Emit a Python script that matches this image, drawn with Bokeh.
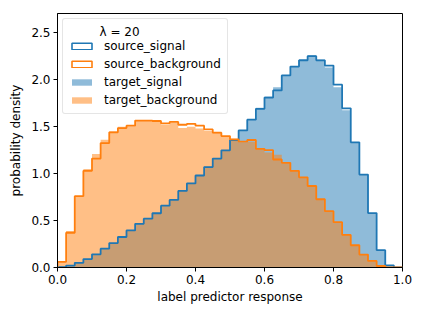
import numpy as np
from bokeh.plotting import figure
from bokeh.models import Range1d, FixedTicker, PrintfTickFormatter, Legend, LegendItem, ColumnDataSource
from bokeh.embed import file_html
from bokeh.resources import INLINE

# ---- data (40 bins on [0, 1]) ----
bin_lo = 0.0
bin_hi = 1.0
n_bins = 40

source_signal = [0.005, 0.02, 0.05, 0.09, 0.14, 0.20, 0.26, 0.325, 0.395, 0.465,
                 0.52, 0.578, 0.658, 0.72, 0.815, 0.895, 0.98, 1.07, 1.16, 1.248,
                 1.357, 1.46, 1.574, 1.69, 1.81, 1.886, 2.045, 2.14, 2.206, 2.25,
                 2.206, 2.15, 1.947, 1.695, 1.333, 0.99, 0.58, 0.184, 0.022, 0.0]
source_background = [0.06, 0.37, 0.76, 1.03, 1.16, 1.325, 1.44, 1.485, 1.51, 1.565,
                     1.565, 1.56, 1.535, 1.55, 1.52, 1.53, 1.51, 1.47, 1.435, 1.40,
                     1.365, 1.34, 1.358, 1.264, 1.249, 1.15, 1.115, 1.03, 0.96, 0.868,
                     0.727, 0.60, 0.483, 0.347, 0.237, 0.138, 0.07, 0.016, 0.0, 0.0]
target_signal = [0.007, 0.022, 0.055, 0.09, 0.145, 0.205, 0.26, 0.33, 0.40, 0.465,
                 0.525, 0.58, 0.66, 0.725, 0.82, 0.895, 0.985, 1.075, 1.165, 1.25,
                 1.36, 1.465, 1.57, 1.70, 1.82, 1.92, 2.05, 2.135, 2.22, 2.26,
                 2.215, 2.13, 1.92, 1.675, 1.335, 0.985, 0.57, 0.18, 0.025, 0.0]
target_background = [0.07, 0.39, 0.76, 1.05, 1.21, 1.36, 1.45, 1.50, 1.505, 1.565,
                     1.56, 1.565, 1.52, 1.545, 1.485, 1.50, 1.48, 1.455, 1.425, 1.40,
                     1.37, 1.33, 1.34, 1.265, 1.225, 1.20, 1.11, 1.03, 0.955, 0.87,
                     0.72, 0.60, 0.475, 0.345, 0.235, 0.14, 0.075, 0.02, 0.005, 0.0]

x_ticks = [0.0, 0.2, 0.4, 0.6, 0.8, 1.0]
y_ticks = [0.0, 0.5, 1.0, 1.5, 2.0, 2.5]
legend_title = "\u03bb = 20"

BLUE = "#1f77b4"
ORANGE = "#ff7f0e"
FONT = "DejaVu Sans"
FS = "12px"

edges = np.linspace(bin_lo, bin_hi, n_bins + 1)

p = figure(output_backend="svg", toolbar_location=None,
           frame_width=345, frame_height=254,
           min_border_left=57, min_border_right=15, min_border_top=13, min_border_bottom=42,
           x_range=Range1d(0, 1), y_range=Range1d(0, 2.705))
p.xgrid.visible = False
p.ygrid.visible = False
p.outline_line_color = "black"
p.outline_line_width = 1
p.background_fill_color = "white"
p.border_fill_color = "white"

def step_xy(vals):
    xs = np.concatenate([[edges[0]], edges])
    ys = np.concatenate([[0.0], vals, [0.0]])
    return xs, ys

def area_src(vals):
    return ColumnDataSource(dict(x=edges, y1=np.zeros(len(edges)), y2=np.concatenate([vals, [vals[-1]]])))

# filled target histograms
r_ts = p.varea_step(x="x", y1="y1", y2="y2", step_mode="after", source=area_src(target_signal),
                    fill_color=BLUE, fill_alpha=0.5)
r_tb = p.varea_step(x="x", y1="y1", y2="y2", step_mode="after", source=area_src(target_background),
                    fill_color=ORANGE, fill_alpha=0.5)

# step outlines for source histograms
xs, ys = step_xy(source_signal)
p.step(xs, ys, mode="after", line_color=BLUE, line_width=1.8)
xs, ys = step_xy(source_background)
p.step(xs, ys, mode="after", line_color=ORANGE, line_width=1.8)

# legend proxies (empty rectangles, no visible data)
proxy = ColumnDataSource(dict(l=[np.nan], r=[np.nan], b=[np.nan], t=[np.nan]))
r_ss = p.quad(left="l", right="r", bottom="b", top="t", source=proxy,
              fill_color="white", fill_alpha=0.0, line_color=BLUE, line_width=1.6)
r_sb = p.quad(left="l", right="r", bottom="b", top="t", source=proxy,
              fill_color="white", fill_alpha=0.0, line_color=ORANGE, line_width=1.6)

legend = Legend(items=[
    LegendItem(label="source_signal", renderers=[r_ss]),
    LegendItem(label="source_background", renderers=[r_sb]),
    LegendItem(label="target_signal", renderers=[r_ts]),
    LegendItem(label="target_background", renderers=[r_tb]),
], location="top_left")
legend.title = "\u00a0" * 8 + legend_title
legend.title_text_font = FONT
legend.title_text_font_size = FS
legend.title_text_font_style = "normal"
legend.title_text_color = "black"
legend.title_standoff = 0
legend.label_text_font = FONT
legend.label_text_font_size = FS
legend.label_text_color = "black"
legend.glyph_width = 25
legend.glyph_height = 8
legend.label_height = 12
legend.label_standoff = 10
legend.spacing = 4
legend.padding = 6
legend.margin = 5
legend.border_line_color = "#cccccc"
legend.border_line_width = 1
legend.background_fill_alpha = 0.8
if "border_radius" in legend.properties():
    legend.border_radius = 3
p.add_layout(legend)

for ax in (p.xaxis, p.yaxis):
    ax.axis_line_color = "black"
    ax.axis_line_width = 1
    ax.major_tick_line_color = "black"
    ax.major_tick_line_width = 1
    ax.major_tick_in = 0
    ax.major_tick_out = 4
    ax.minor_tick_line_color = None
    ax.major_label_text_font = FONT
    ax.major_label_text_font_size = FS
    ax.major_label_text_color = "black"
    ax.axis_label_text_font = FONT
    ax.axis_label_text_font_size = FS
    ax.axis_label_text_font_style = "normal"
    ax.axis_label_text_color = "black"
    ax.formatter = PrintfTickFormatter(format="%.1f")

p.xaxis.ticker = FixedTicker(ticks=x_ticks)
p.yaxis.ticker = FixedTicker(ticks=y_ticks)
p.xaxis.axis_label = "label predictor response"
p.yaxis.axis_label = "probability density"
p.xaxis.major_label_standoff = 3
p.yaxis.major_label_standoff = 3
p.xaxis.axis_label_standoff = 3
p.yaxis.axis_label_standoff = 5

open("out.html", "w").write(file_html(p, INLINE))
